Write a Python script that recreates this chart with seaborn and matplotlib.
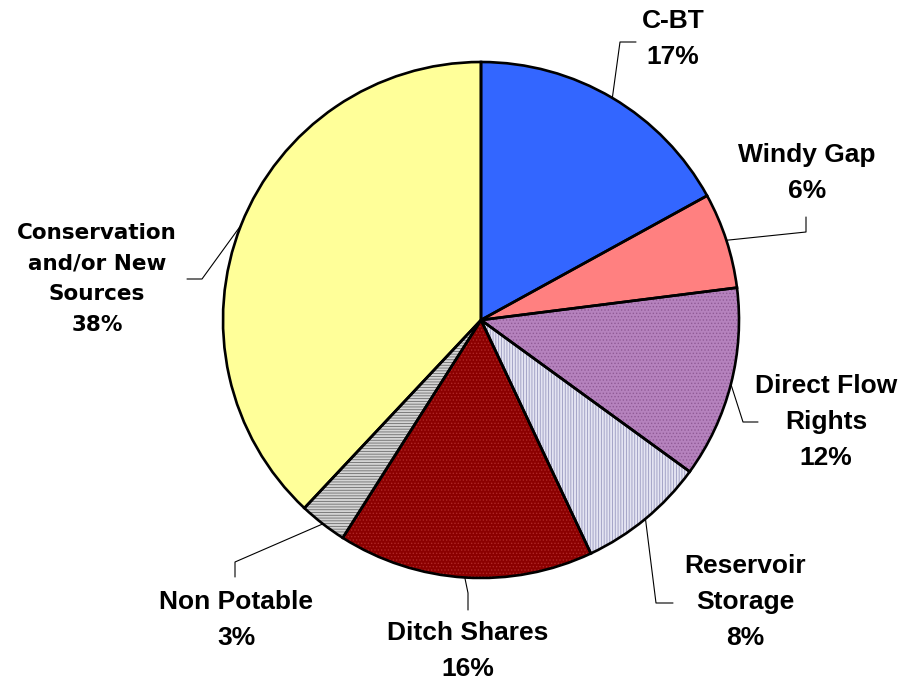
import numpy as np
import matplotlib
matplotlib.use('Agg')
import matplotlib.pyplot as plt
import seaborn as sns
from matplotlib.patches import Wedge

# data
labels = ['C-BT', 'Windy Gap', 'Direct Flow\nRights', 'Reservoir\nStorage',
          'Ditch Shares', 'Non Potable', 'Conservation\nand/or New\nSources']
shares = [17, 6, 12, 8, 16, 3, 38]
face_colors = ['#3366ff', '#ff8080', '#b582bd', '#e4e4f2', '#8b0000', '#d4d4d4', '#ffff99']
hatch_colors = [None, None, '#8f5a96', '#9a9ac0', '#b02828', '#6e6e6e', None]
hatches = [None, None, '.....', '||||||', '.....', '------', None]

sns.set_theme(style='white')
plt.rcParams['font.family'] = ['Liberation Sans', 'DejaVu Sans']
plt.rcParams['text.color'] = 'black'
plt.rcParams['hatch.linewidth'] = 0.6

W, H = 916, 686
fig = plt.figure(figsize=(W / 100, H / 100), dpi=100)
ax = fig.add_axes([0, 0, 1, 1])

cx, cy, r = 481, H - 320, 258

wedges, _ = ax.pie(shares, colors=face_colors, startangle=90, counterclock=False,
                   center=(cx, cy), radius=r, frame=True,
                   wedgeprops=dict(linewidth=0))
ax.set_xlim(0, W)
ax.set_ylim(0, H)
ax.axis('off')

# hatching overlays + outlines
for w, hc, h in zip(wedges, hatch_colors, hatches):
    if h:
        ax.add_patch(Wedge((cx, cy), r, w.theta1, w.theta2, facecolor='none',
                           edgecolor=hc, hatch=h, linewidth=0, zorder=2))
for w in wedges:
    ax.add_patch(Wedge((cx, cy), r, w.theta1, w.theta2, facecolor='none',
                       edgecolor='black', linewidth=1.9, zorder=3))

# label layout (pixel coords from top): text centre, leader elbow, leader end
text_pos = [(673, 39), (807, 173), (826, 422), (745, 602), (468, 651), (236, 620), (97, 279)]
elbows = [(620, 42), (806, 232), (743, 422), (656, 603), (468, 593), (235, 562), (202, 279)]
ends = [(636, 42), (806, 217), (758, 422), (673, 603), (468, 610), (235, 577), (187, 279)]

for i, (w, lab, s) in enumerate(zip(wedges, labels, shares)):
    mid = np.deg2rad((w.theta1 + w.theta2) / 2)
    x0, y0 = cx + r * np.cos(mid), cy + r * np.sin(mid)
    ex, ey = elbows[i]
    nx, ny = ends[i]
    ax.plot([x0, ex, nx], [y0, H - ey, H - ny], color='black', lw=0.8, zorder=4)
    tx, ty = text_pos[i]
    if i == 6:
        ax.text(tx, H - ty, f'{lab}\n{s}%', ha='center', va='center', fontsize=15.5,
                fontweight='bold', family='DejaVu Sans', linespacing=1.65)
    else:
        ax.text(tx, H - ty, f'{lab}\n{s}%', ha='center', va='center', fontsize=19,
                fontweight='bold', linespacing=1.62)

fig.savefig('out.png', dpi=100)
